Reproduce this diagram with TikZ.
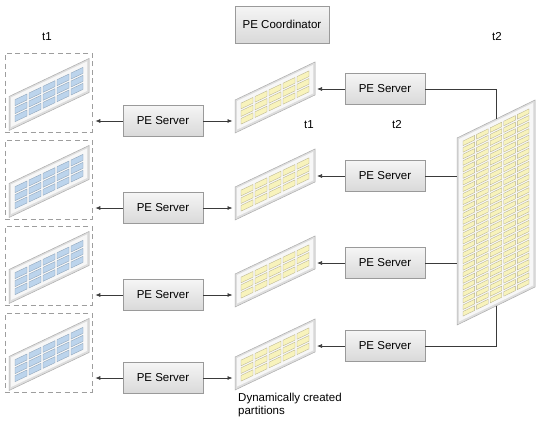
\documentclass[tikz,border=0pt]{standalone}
\usepackage{fontspec}
\setmainfont{Liberation Sans}
\usetikzlibrary{arrows.meta}
\definecolor{cellY}{HTML}{F8F3BC}
\definecolor{cellYd}{HTML}{B9B48F}
\definecolor{cellB}{HTML}{BCD4EC}
\definecolor{cellBd}{HTML}{8CA2B8}
\definecolor{boxtop}{HTML}{F5F5F5}
\definecolor{boxbot}{HTML}{D9D9D9}
\definecolor{boxline}{HTML}{9A9A9A}
\definecolor{lineC}{HTML}{3A3A3A}
\definecolor{dashC}{HTML}{9E9E9E}

% #1 x0, #2 y0 (top-left), #3 width, #4 height, #5 rise of right edge,
% #6 columns, #7 rows, #8 cell fill, #9 cell border
\newcommand\tabpanel[9]{%
\begin{scope}[shift={(#1,#2)}]
 \pgfmathsetmacro\tabW{#3}\pgfmathsetmacro\tabH{#4}\pgfmathsetmacro\tabS{#5}
 \pgfmathsetmacro\tabK{\tabS/\tabW}
 \filldraw[fill=black!13,draw=black!32,line width=.5pt]
   (0,0) -- (\tabW,-\tabS) -- (\tabW,{\tabH-\tabS}) -- (0,\tabH) -- cycle;
 \fill[black!3]
   (2,{2-2*\tabK}) -- ({\tabW-2},{2-(\tabW-2)*\tabK}) --
   ({\tabW-2},{\tabH-2.5-(\tabW-2)*\tabK}) -- (2,{\tabH-2.5-2*\tabK}) -- cycle;
 \pgfmathsetmacro\cellW{(\tabW-12-2*(#6-1))/#6}
 \pgfmathsetmacro\cellH{(\tabH-12-2*(#7-1))/#7}
 \pgfmathtruncatemacro\nCol{#6-1}
 \pgfmathtruncatemacro\nRow{#7-1}
 \foreach \ci in {0,...,\nCol}{%
  \foreach \cj in {0,...,\nRow}{%
   \pgfmathsetmacro\cxa{6+\ci*(\cellW+2)}
   \pgfmathsetmacro\cxb{\cxa+\cellW}
   \pgfmathsetmacro\cyy{6+\cj*(\cellH+2)}
   \filldraw[fill=#8,draw=#9,line width=.35pt]
     (\cxa,{\cyy-\cxa*\tabK}) -- (\cxb,{\cyy-\cxb*\tabK}) --
     (\cxb,{\cyy+\cellH-\cxb*\tabK}) -- (\cxa,{\cyy+\cellH-\cxa*\tabK}) -- cycle;
  }}
\end{scope}}

\begin{document}
\begin{tikzpicture}[x=1pt,y=-1pt,
  pebox/.style={draw=boxline,top color=boxtop,bottom color=boxbot,line width=.5pt,
     minimum width=80pt,minimum height=31pt,inner sep=0pt,
     font=\fontsize{11.5}{13}\selectfont},
  dbox/.style={draw=dashC,dash pattern=on 5pt off 3.5pt,line width=.6pt,
     minimum width=87pt,minimum height=79pt,inner sep=0pt},
  lbl/.style={inner sep=0pt,font=\fontsize{11.5}{12.5}\selectfont},
  arr/.style={draw=lineC,line width=.7pt,-{Latex[length=5pt,width=4pt]}},
  conn/.style={draw=lineC,line width=.7pt}]
\useasboundingbox[fill=white] (0,0) rectangle (540,423);

% coordinator
\node[pebox,minimum width=94pt,minimum height=37pt] (coord) at (282,24.5) {PE Coordinator};

% labels
\node[lbl] (lt1) at (47,37) {t1};
\node[lbl] (lt2) at (497,37) {t2};
\node[lbl] (mt1) at (309,125) {t1};
\node[lbl] (mt2) at (397,125) {t2};
\node[lbl,anchor=north west,align=left] (dyn) at (238,393) {Dynamically created\\partitions};

% dashed boxes with source tables
\foreach \k/\yt in {1/53,2/140,3/226,4/313}{%
  \node[dbox] (b\k) at (48.5,{\yt+39.5}) {};
  \tabpanel{9}{\yt+43.5}{80}{34}{38}{5}{3}{cellB}{cellBd}
}

% middle (dynamically created) tables
\foreach \k/\yt in {1/100,2/187,3/274,4/357}{%
  \tabpanel{235}{\yt}{80}{33}{38}{5}{3}{cellY}{cellYd}
  \coordinate (mw\k) at (235,{\yt+16.5});
  \coordinate (me\k) at (315,{\yt+16.5-38});
}

% big t2 table
\tabpanel{457}{138}{78}{187}{38}{5}{27}{cellY}{cellYd}
\coordinate (bigW) at (457,231);
\coordinate (bigTop) at (496,119);
\coordinate (bigBot) at (496,306);

% PE servers
\foreach \k/\yl/\yr in {1/121/89,2/208/176,3/295/263,4/378/346}{%
  \node[pebox] (lp\k) at (163,\yl) {PE Server};
  \node[pebox] (rp\k) at (385,\yr) {PE Server};
  \draw[arr,shorten >=3pt] (lp\k.west) -- (lp\k.west -| b\k.east);
  \draw[arr,shorten >=2.5pt] (lp\k.east) -- (lp\k.east -| mw\k);
  \draw[arr,shorten >=2pt] (rp\k.west) -- (rp\k.west -| me\k);
}

% connections to the big table
\draw[conn] (rp1.east) -| (bigTop);
\draw[conn] (rp2.east) -- (rp2.east -| bigW);
\draw[conn] (rp3.east) -- (rp3.east -| bigW);
\draw[conn] (rp4.east) -| (bigBot);
\end{tikzpicture}
\end{document}
